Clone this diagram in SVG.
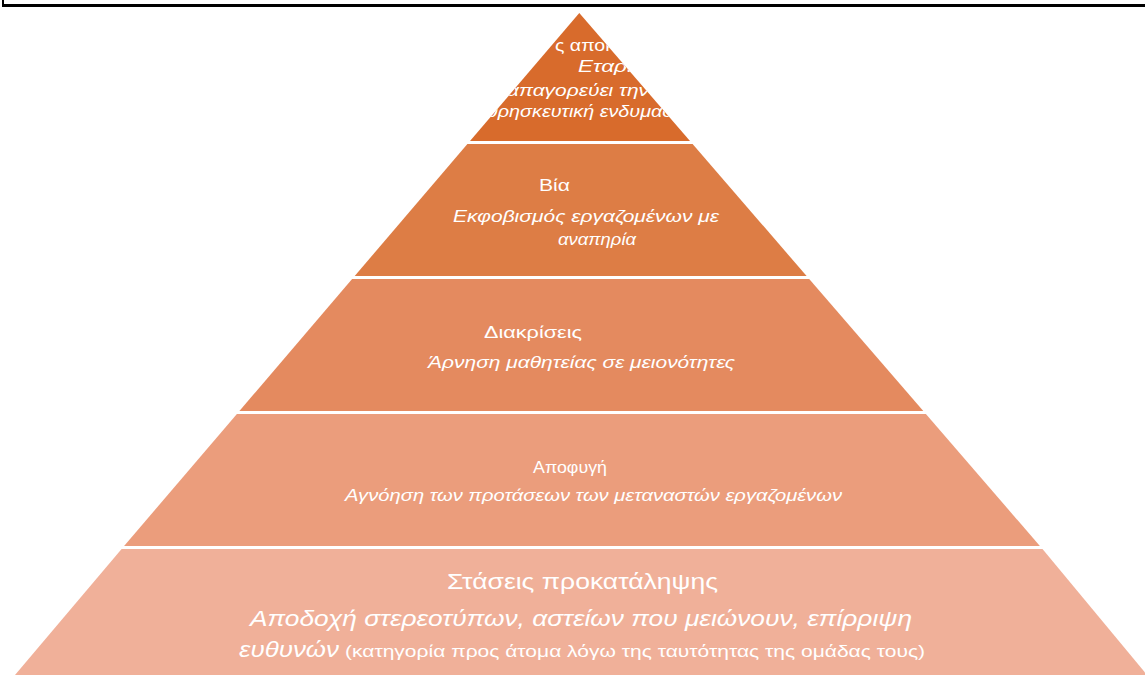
<svg xmlns="http://www.w3.org/2000/svg" width="1145" height="675" viewBox="0 0 1145 675">
  <style>
    .t { font-family: "Liberation Sans", Arial, sans-serif; fill: #ffffff; }
    .r { font-style: normal; }
    .i { font-style: italic; }
    .s15 { font-size: 16.5px; }
    .s20 { font-size: 21.5px; }
  </style>
  <defs>
    <clipPath id="topClip">
      <polygon points="579.3,13 690,141 470,141"/>
    </clipPath>
  </defs>
  <rect x="0" y="0" width="1145" height="675" fill="#ffffff"/>
  <g id="frame">
    <rect x="2" y="4" width="1143" height="3" fill="#000000"/>
    <rect x="2" y="0" width="2" height="7" fill="#000000"/>
  </g>

  <g id="level1">
    <polygon points="579.3,13 690,141 470,141" fill="#D86B2C"/>
    <g clip-path="url(#topClip)">
      <text class="t r s15" x="555" y="51" textLength="60" lengthAdjust="spacingAndGlyphs">ς αποκ</text>
      <text class="t i s15" x="578" y="72" textLength="54" lengthAdjust="spacingAndGlyphs">Εταρι</text>
      <text class="t i s15" x="507" y="96" textLength="142" lengthAdjust="spacingAndGlyphs">απαγορεύει την</text>
      <text class="t i s15" x="487" y="117" textLength="203" lengthAdjust="spacingAndGlyphs">θρησκευτική ενδυμασία</text>
    </g>
  </g>

  <g id="level2">
    <polygon points="467.4,144 692.6,144 806.6,276 354.7,276" fill="#DD7D45"/>
    <text class="t r s15" x="539" y="191" textLength="31" lengthAdjust="spacingAndGlyphs">Βία</text>
    <text class="t i s15" x="453" y="222" textLength="266" lengthAdjust="spacingAndGlyphs">Εκφοβισμός εργαζομένων με</text>
    <text class="t i s15" x="558" y="245" textLength="78" lengthAdjust="spacingAndGlyphs">αναπηρία</text>
  </g>

  <g id="level3">
    <polygon points="352.1,279 809.2,279 923.3,411 239.4,411" fill="#E48A5F"/>
    <text class="t r s15" x="484" y="338" textLength="98" lengthAdjust="spacingAndGlyphs">Διακρίσεις</text>
    <text class="t i s15" x="428" y="368" textLength="307" lengthAdjust="spacingAndGlyphs">Άρνηση μαθητείας σε μειονότητες</text>
  </g>

  <g id="level4">
    <polygon points="236.9,414 925.9,414 1039.9,546 124.1,546" fill="#EB9D7C"/>
    <text class="t r s15" x="533" y="473" textLength="74" lengthAdjust="spacingAndGlyphs">Αποφυγή</text>
    <text class="t i s15" x="345" y="501" textLength="497" lengthAdjust="spacingAndGlyphs">Αγνόηση των προτάσεων των μεταναστών εργαζομένων</text>
  </g>

  <g id="level5">
    <polygon points="121.6,549 1042.5,549 1147,675 15,675" fill="#F0B099"/>
    <text class="t r s20" x="447" y="589" textLength="271" lengthAdjust="spacingAndGlyphs">Στάσεις προκατάληψης</text>
    <text class="t i s20" x="250" y="626" textLength="662" lengthAdjust="spacingAndGlyphs">Αποδοχή στερεοτύπων, αστείων που μειώνουν, επίρριψη</text>
    <text class="t i s20" x="239" y="657" textLength="100" lengthAdjust="spacingAndGlyphs">ευθυνών</text>
    <text class="t r s15" x="345" y="657" textLength="580" lengthAdjust="spacingAndGlyphs">(κατηγορία προς άτομα λόγω της ταυτότητας της ομάδας τους)</text>
  </g>

  <g id="connectors"></g>
</svg>
